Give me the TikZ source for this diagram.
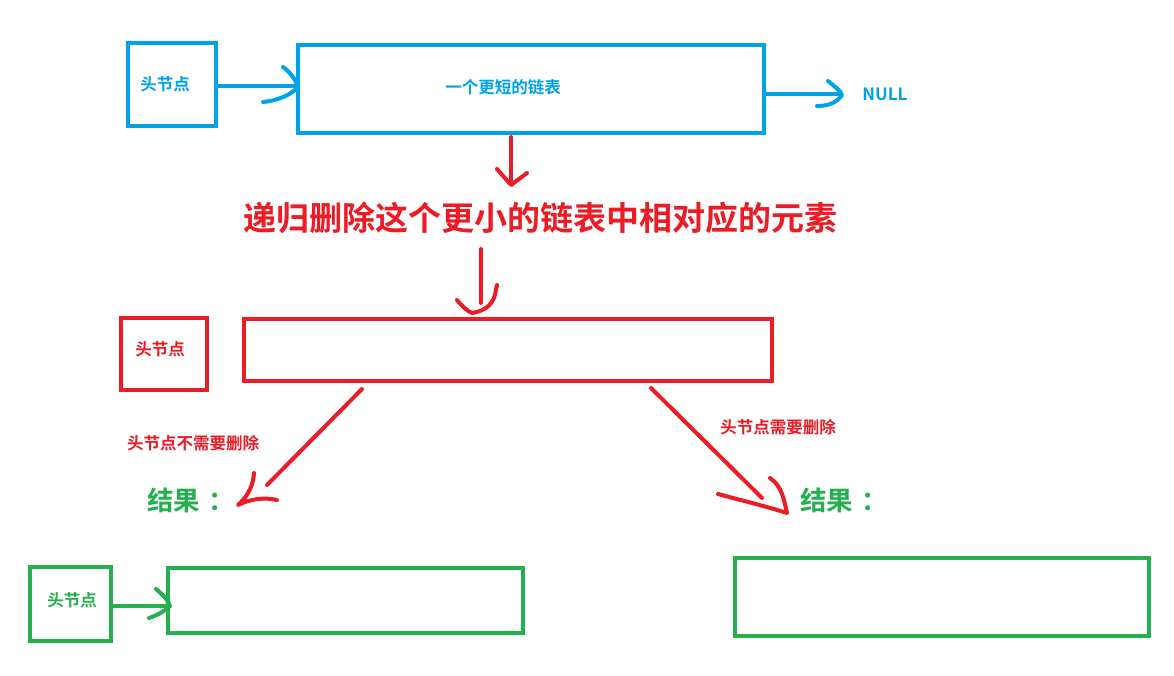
\documentclass[tikz,border=0pt]{standalone}
\usepackage{fontspec}
\newfontfamily\cjk{Noto Sans CJK SC}[BoldFont={Noto Sans CJK SC Bold}]
\definecolor{pblue}{RGB}{0,162,232}
\definecolor{pred}{RGB}{237,28,36}
\definecolor{pgreen}{RGB}{34,177,76}
\begin{document}
\begin{tikzpicture}[x=1pt,y=-1pt,
  box/.style={draw,line width=4pt},
  pen/.style={line width=4pt,line cap=round,line join=round},
  lbl/.style={font=\cjk\bfseries\fontsize{16.5}{18}\selectfont,inner sep=0pt},
  res/.style={font=\cjk\bfseries\fontsize{26.5}{28}\selectfont,inner sep=0pt,text=pgreen}]
\useasboundingbox[fill=white] (0,0) rectangle (1174,675);
% top row (blue)
\node[box,pblue,minimum width=88pt,minimum height=83pt] (h1) at (172,84.5) {};
\node[lbl,text=pblue] (h1t) at (165,84) {头节点};
\node[box,pblue,minimum width=466pt,minimum height=88pt] (l1) at (531,89) {};
\node[lbl,text=pblue] (l1t) at (503,87) {一个更短的链表};
\node[lbl,text=pblue,font=\cjk\bfseries\fontsize{17}{19}\selectfont] (null) at (885,94) {NULL};
\coordinate (a1) at (298,86);
\draw[pen,pblue] (h1.east |- a1) -- (a1);
\draw[pen,pblue] (283,67) .. controls (290,72) and (296,80) .. (298,87) .. controls (290,96) and (275,101) .. (263,102);
\coordinate (a2) at (840,94);
\draw[pen,pblue] (l1.east |- a2) -- (a2);
\draw[pen,pblue] (828,81) .. controls (834,86) and (840,90) .. (842,95) .. controls (836,104) and (826,106) .. (817,106);
% red middle
\draw[pen,pred] (511,137) -- (511,184);
\draw[pen,pred] (497,169) -- (511,185) -- (527,173);
\node[font=\cjk\bfseries\fontsize{33}{36}\selectfont,text=pred,inner sep=0pt] (title) at (540,218) {递归删除这个更小的链表中相对应的元素};
\draw[pen,pred] (481,249) -- (481,303);
\draw[pen,pred] (457,300) .. controls (462,306) and (467,311) .. (472,313) .. controls (486,311) and (495,303) .. (496,289) -- (497,285);
\node[box,pred,minimum width=86pt,minimum height=72pt] (h2) at (164,354) {};
\node[lbl,text=pred] (h2t) at (160,349) {头节点};
\node[box,pred,minimum width=528pt,minimum height=62pt] (l2) at (508,350) {};
% branches
\coordinate (bl) at (267,485);
\draw[pen,pred] (362,389) -- (bl);
\draw[pen,pred] (254,473) .. controls (253,484) and (250,494) .. (238,505) .. controls (250,499) and (264,497) .. (277,500);
\node[lbl,text=pred] (nd) at (193,443) {头节点不需要删除};
\coordinate (br) at (762,498);
\draw[pen,pred] (651,388) -- (br);
\draw[pen,pred] (718,494) .. controls (740,500) and (765,506) .. (787,513) .. controls (784,500) and (782,486) .. (770,478);
\node[lbl,text=pred] (yd) at (778,427) {头节点需要删除};
\node[res,anchor=west] (r1) at (147,500) {结果\kern8pt：};
\node[res,anchor=west] (r2) at (800,500) {结果\kern8pt：};
% green results
\node[box,pgreen,minimum width=81pt,minimum height=74pt] (h3) at (70.5,604) {};
\node[lbl,text=pgreen] (h3t) at (72,600) {头节点};
\node[box,pgreen,minimum width=355pt,minimum height=65pt] (l3) at (345.5,600.5) {};
\coordinate (a3) at (170,606);
\draw[pen,pgreen] (h3.east |- a3) -- (a3);
\draw[pen,pgreen] (156,589) .. controls (162,594) and (168,600) .. (170,606) .. controls (164,612) and (155,616) .. (149,618);
\node[box,pgreen,minimum width=414pt,minimum height=78pt] (l4) at (942,597) {};
\end{tikzpicture}
\end{document}
